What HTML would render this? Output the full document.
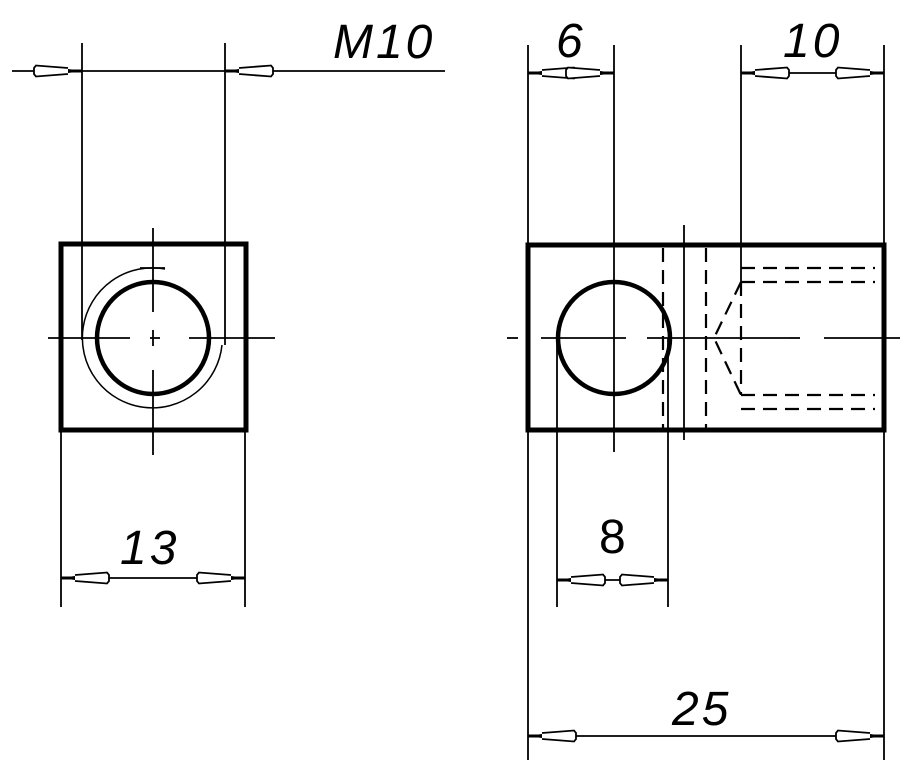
<!DOCTYPE html>
<html><head><meta charset="utf-8"><style>
html,body{margin:0;padding:0;background:#fff;}
svg{display:block;}
text{font-family:"Liberation Sans",sans-serif;font-size:48px;fill:#000;letter-spacing:3px;}
</style></head><body>
<svg width="918" height="781" viewBox="0 0 918 781" xmlns="http://www.w3.org/2000/svg">
<defs>
<g id="ar">
<polygon points="0,0 -24,-3.5 -24,3.5" fill="#000"/>
<path d="M-14,-3 L-46,-5.5 L-48,-3 L-48,3 L-46,5.5 L-14,3" fill="#fff" stroke="#000" stroke-width="1.8"/>
<line x1="-14" y1="0" x2="0" y2="0" stroke="#000" stroke-width="3"/>
</g>
</defs>
<g stroke="#000" fill="none">
<!-- LEFT VIEW -->
<rect x="61" y="244" width="185" height="186" stroke-width="5"/>
<circle cx="153" cy="338" r="56" stroke-width="4.5"/>
<path d="M165,269 A70,70 0 1 0 222,345" stroke-width="1.5"/>
<g stroke-width="1.8">
<line x1="48" y1="338" x2="130" y2="338"/><line x1="150" y1="338" x2="160" y2="338"/><line x1="189" y1="338" x2="275" y2="338"/>
<line x1="153" y1="228" x2="153" y2="312"/><line x1="153" y1="330" x2="153" y2="346"/><line x1="153" y1="370" x2="153" y2="455"/>
<line x1="140" y1="268" x2="165" y2="268"/>
<line x1="82" y1="43" x2="82" y2="340"/><line x1="225" y1="43" x2="225" y2="345"/>
<line x1="12" y1="71" x2="445" y2="71"/>
<line x1="61" y1="430" x2="61" y2="607"/><line x1="245" y1="430" x2="245" y2="607"/>
<line x1="61" y1="578" x2="245" y2="578"/>
</g>
<!-- RIGHT VIEW -->
<rect x="528" y="245" width="356" height="185" stroke-width="5"/>
<circle cx="614" cy="338" r="56" stroke-width="4.5"/>
<g stroke-width="1.8">
<line x1="507" y1="338" x2="518" y2="338"/><line x1="541" y1="338" x2="626" y2="338"/><line x1="647" y1="338" x2="790" y2="338"/><line x1="790" y1="338" x2="800" y2="338"/><line x1="824" y1="338" x2="900" y2="338"/>
<line x1="614" y1="45" x2="614" y2="452"/>
<line x1="684" y1="225" x2="684" y2="440"/>
<line x1="741" y1="45" x2="741" y2="282"/>
<line x1="528" y1="45" x2="528" y2="760"/><line x1="884" y1="45" x2="884" y2="760"/>
<line x1="528" y1="73" x2="614" y2="73"/><line x1="741" y1="73" x2="884" y2="73"/>
<line x1="557" y1="338" x2="557" y2="607"/><line x1="668" y1="338" x2="668" y2="607"/>
<line x1="557" y1="580" x2="668" y2="580"/>
<line x1="528" y1="736" x2="884" y2="736"/>
</g>
<g stroke-width="2.2" stroke-dasharray="14,8">
<line x1="663" y1="248" x2="663" y2="430"/>
<line x1="706" y1="248" x2="706" y2="430"/>
<line x1="741" y1="282" x2="741" y2="395"/>
<line x1="741" y1="268" x2="875" y2="268"/><line x1="741" y1="282" x2="875" y2="282"/>
<line x1="741" y1="395" x2="875" y2="395"/><line x1="741" y1="409" x2="875" y2="409"/>
<path d="M741,282 L714,338 L741,395"/>
</g>
</g>
<use href="#ar" transform="translate(82,71)"/>
<use href="#ar" transform="translate(225,71) scale(-1,1)"/>
<use href="#ar" transform="translate(61,578) scale(-1,1)"/>
<use href="#ar" transform="translate(245,578)"/>
<use href="#ar" transform="translate(528,73) scale(-1,1)"/>
<use href="#ar" transform="translate(614,73)"/>
<use href="#ar" transform="translate(741,73) scale(-1,1)"/>
<use href="#ar" transform="translate(884,73)"/>
<use href="#ar" transform="translate(557,580) scale(-1,1)"/>
<use href="#ar" transform="translate(668,580)"/>
<use href="#ar" transform="translate(528,736) scale(-1,1)"/>
<use href="#ar" transform="translate(884,736)"/>
<text x="333" y="58" font-style="italic">M10</text>
<text x="120" y="564" font-style="italic">13</text>
<text x="556" y="57" font-style="italic">6</text>
<text x="783" y="57" font-style="italic">10</text>
<text x="599" y="553">8</text>
<text x="672" y="725" font-style="italic" letter-spacing="8">25</text>
</svg>
</body></html>
